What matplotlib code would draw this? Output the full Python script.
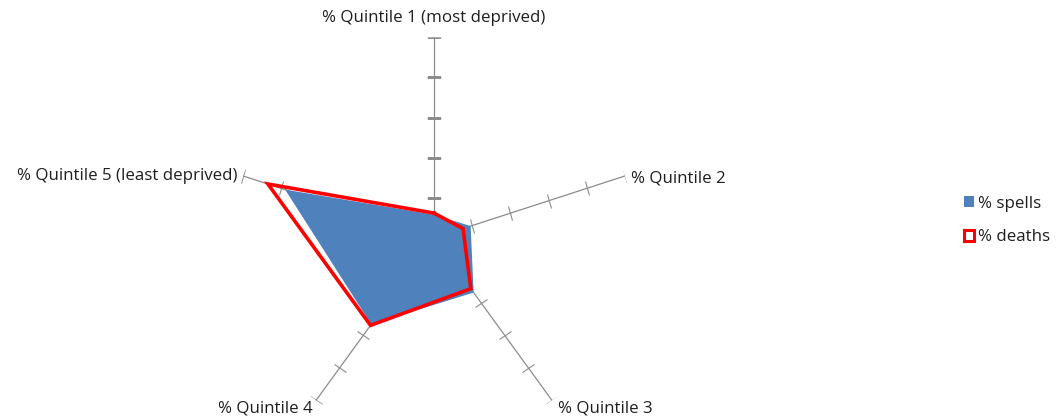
import numpy as np
import matplotlib.pyplot as plt
from matplotlib.patches import Patch
from matplotlib.markers import MarkerStyle
from matplotlib.transforms import Affine2D

plt.rcParams['font.family'] = ['Open Sans', 'DejaVu Sans']

labels = ['% Quintile 1 (most deprived)', '% Quintile 2', '% Quintile 3',
          '% Quintile 4', '% Quintile 5 (least deprived)']
spells = [5.8, 9.6, 16.8, 26.6, 39.0]
deaths = [6.2, 7.6, 15.6, 26.9, 43.5]
rings = [10, 20, 30, 40, 50]

axis_col = '#8c8c8c'
text_col = '#1f1f1f'
fsize = 12.2

fig = plt.figure(figsize=(10.6, 4.16), dpi=100)
# centre of the web sits at (434, 238) px, outer radius ~200 px
R = 200.7
ax = fig.add_axes([(434 - R) / 1060, (178 - R) / 416, 2 * R / 1060, 2 * R / 416],
                  projection='polar')
ax.set_theta_zero_location('N')
ax.set_theta_direction(-1)
ax.set_ylim(0, rings[-1])
ax.grid(False)
ax.set_xticks([])
ax.set_yticks([])
ax.spines['polar'].set_visible(False)
ax.patch.set_alpha(0)

theta = np.deg2rad(np.arange(len(labels)) * 72)

# spokes with cross tick marks
for t in theta:
    ax.plot([t, t], [0, rings[-1]], color=axis_col, lw=0.9, zorder=1)
    tick = MarkerStyle('_', transform=Affine2D().rotate_deg(180 - np.rad2deg(t)))
    ax.plot([t] * len(rings), rings, ls='none', marker=tick, snap=False,
            markersize=10.5, markeredgewidth=0.8, color=axis_col, zorder=1)

tc = np.append(theta, theta[0])
ax.fill(tc, spells + spells[:1], color='#4f81bd', lw=0, zorder=2)
ax.plot(tc, deaths + deaths[:1], color='#ff0000', lw=2.6,
        solid_joinstyle='miter', zorder=3)

# category labels at the spoke ends
offsets = [((0, 13.7), 'center', 'center'),
           ((4.5, -1.5), 'left', 'center'),
           ((4.6, -5.8), 'left', 'center'),
           ((-2.4, -5.8), 'right', 'center'),
           ((-4.3, 0), 'right', 'center')]
for t, lab, (off, ha, va) in zip(theta, labels, offsets):
    ax.annotate(lab, xy=(t, rings[-1]), xytext=off, textcoords='offset points',
                ha=ha, va=va, fontsize=fsize, color=text_col, annotation_clip=False)

handles = [Patch(facecolor='#4f81bd', edgecolor='none', label='% spells'),
           Patch(facecolor='white', edgecolor='#ff0000', lw=2.2, label='% deaths')]
fig.legend(handles=handles, loc='center left', bbox_to_anchor=(0.895, 0.47),
           frameon=False, handlelength=0.6, handleheight=0.6, handletextpad=0.2,
           labelspacing=1.05, fontsize=fsize, labelcolor=text_col)

fig.savefig('out.png', dpi=100)
